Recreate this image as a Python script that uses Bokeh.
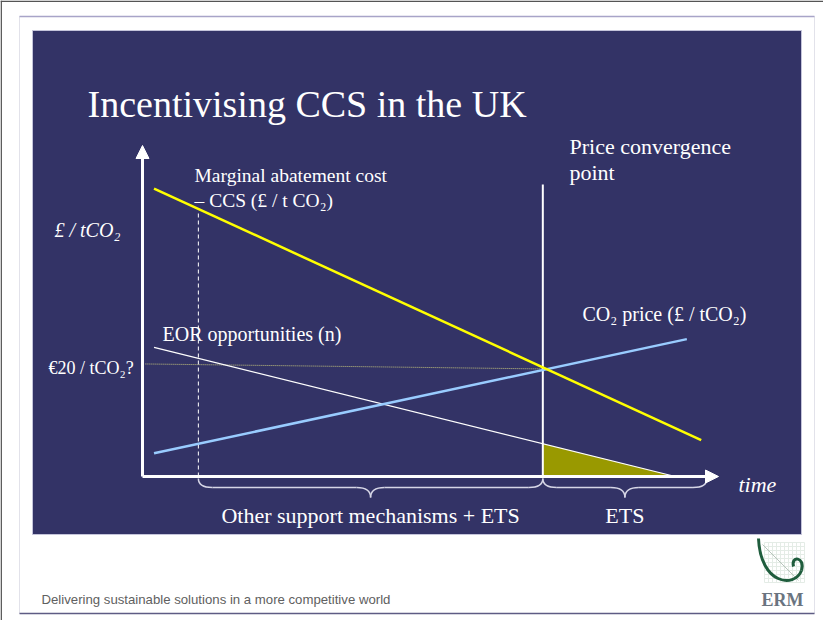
from bokeh.plotting import figure
from bokeh.models import Range1d, Arrow, NormalHead
from bokeh.core.properties import value
from bokeh.embed import file_html
from bokeh.resources import INLINE
import numpy as np

# ---- conceptual data (time units 0..10, price units 0..10) ----
mac_time = [0.2, 9.7]
mac_price = [8.7, 1.1]            # Marginal abatement cost - CCS
co2_time = [0.2, 9.45]
co2_price = [0.7, 4.15]           # CO2 price
eor_time = [0.2, 9.25]
eor_price = [3.9, 0.0]            # EOR opportunities (n)
ref_time = [0.05, 6.95]
ref_price = [3.4, 3.25]           # €20 / tCO2? level
t_eor_cut = 0.97
t_converge = 6.95
t_ets_end = 9.8
brace_starts = [t_eor_cut, t_converge]
brace_ends = [t_converge, t_ets_end]
brace_labels = ["Other support mechanisms + ETS", "ETS"]

# ---- mapping helpers for slide layout (reference pixels -> data) ----
XS, X0 = 57.6, 150.0
YS, Y0 = 33.1, 484.0
def X(px):
    return (px - X0) / XS
def Y(py):
    return (Y0 - py) / YS

p = figure(width=823, height=620, x_range=Range1d(X(8), X(831)),
           y_range=Range1d(Y(628), Y(8)), output_backend="svg",
           toolbar_location=None, x_axis_location=None, y_axis_location=None,
           min_border=0, background_fill_color="white", border_fill_color="white",
           outline_line_color=None)
p.grid.visible = False

SERIF = value("Liberation Serif")
SANS = value("Liberation Sans")

# page frame lines
p.segment(x0=[X(8)], y0=[Y(8.7)], x1=[X(831)], y1=[Y(8.7)], line_color="#555555", line_width=1.5)
p.segment(x0=[X(8.7)], y0=[Y(8)], x1=[X(8.7)], y1=[Y(628)], line_color="#555555", line_width=1.5)

# slide frame
p.quad(left=[X(27)], right=[X(822)], top=[Y(24)], bottom=[Y(621)],
       fill_color="white", line_color="#e2e2ea", line_width=1)
p.segment(x0=[X(27)], y0=[Y(24)], x1=[X(822)], y1=[Y(24)], line_color="#a8a4c8", line_width=1.5)
p.segment(x0=[X(27)], y0=[Y(621)], x1=[X(822)], y1=[Y(621)], line_color="#5e5c84", line_width=1.5)

# blue slide panel
p.quad(left=[X(40)], right=[X(809)], top=[Y(38)], bottom=[Y(542)],
       fill_color="#333366", line_color="#c4c4da", line_width=1)

# title
p.text(x=[X(95)], y=[Y(111)], text=["Incentivising CCS in the UK"], text_font=SERIF,
       text_font_size="38px", text_color="white", text_baseline="alphabetic")

# ETS-only area under EOR curve after convergence
eor_at_conv = float(np.interp(t_converge, eor_time, eor_price))
p.patch(x=[t_converge, t_converge, eor_time[1]], y=[eor_at_conv, 0, eor_price[1]],
        fill_color="#999900", line_color=None)

# reference price level (dotted)
p.line(ref_time, ref_price, line_color="#c4c47c", line_width=1, line_dash="1 1")

# vertical markers
p.segment(x0=[t_eor_cut], y0=[0], x1=[t_eor_cut], y1=[7.98], line_color="white",
          line_width=1, line_dash="4 3")
p.segment(x0=[t_converge], y0=[0], x1=[t_converge], y1=[8.82], line_color="white", line_width=2)

# curves
p.line(eor_time, eor_price, line_color="white", line_width=1.2)
p.line(co2_time, co2_price, line_color="#99ccff", line_width=2.5)
p.line(mac_time, mac_price, line_color="#ffff00", line_width=2.5)

# axes with arrow heads
p.add_layout(Arrow(end=NormalHead(size=13, fill_color="white", line_color="white"),
                   x_start=0, y_start=0, x_end=10, y_end=0, line_color="white", line_width=3))
p.add_layout(Arrow(end=NormalHead(size=13, fill_color="white", line_color="white"),
                   x_start=0, y_start=0, x_end=0, y_end=10, line_color="white", line_width=3))

# braces
yt, ym, yb = Y(486), Y(495), Y(505)
r = 14 / XS
for a, b in zip(brace_starts, brace_ends):
    m = (a + b) / 2
    p.quadratic(x0=[a, m - r, m, b - r], y0=[yt, ym, yb, ym],
                x1=[a + r, m, m + r, b], y1=[ym, yb, ym, yt],
                cx=[a, m, m, b], cy=[ym, ym, ym, ym],
                line_color="#d6d6e6", line_width=1.5)
    p.segment(x0=[a + r, m + r], y0=[ym, ym], x1=[m - r, b - r], y1=[ym, ym],
              line_color="#d6d6e6", line_width=1.5)
p.text(x=[(a + b) / 2 for a, b in zip(brace_starts, brace_ends)], y=[Y(523)] * 2,
       text=brace_labels, text_font=SERIF, text_font_size="22px", text_color="white",
       text_align="center", text_baseline="alphabetic")

# annotations
labels = [
    (202, 183, "Marginal abatement cost", "normal", "19.5px"),
    (202, 208, "– CCS (£ / t CO₂)", "normal", "19.5px"),
    (62, 237, "£ / tCO₂", "italic", "20px"),
    (170, 341, "EOR opportunities (n)", "normal", "20px"),
    (56, 375, "€20 / tCO₂?", "normal", "18px"),
    (577, 154, "Price convergence", "normal", "22px"),
    (577, 180, "point", "normal", "22px"),
    (590, 321, "CO₂ price (£ / tCO₂)", "normal", "20px"),
    (746, 492, "time", "italic", "22px"),
]
for lx, ly, txt, style, size in labels:
    p.text(x=[X(lx)], y=[Y(ly)], text=[txt], text_font=SERIF, text_font_size=size,
           text_font_style=style, text_color="white", text_baseline="alphabetic")

# footer
p.text(x=[X(49)], y=[Y(607)], text=["Delivering sustainable solutions in a more competitive world"],
       text_font=SANS, text_font_size="13.2px", text_color="#606060", text_baseline="alphabetic")

# ERM logo
gx = np.arange(772, 813, 4)
gy = np.arange(550, 591, 4)
p.segment(x0=[X(v) for v in gx], y0=[Y(550)] * len(gx), x1=[X(v) for v in gx], y1=[Y(590)] * len(gx),
          line_color="#e4ece6", line_width=1)
p.segment(x0=[X(772)] * len(gy), y0=[Y(v) for v in gy], x1=[X(812)] * len(gy), y1=[Y(v) for v in gy],
          line_color="#e4ece6", line_width=1)
p.segment(x0=[X(770)], y0=[Y(552)], x1=[X(806)], y1=[Y(588)], line_color="#b8c4bc", line_width=1)
p.bezier(x0=[X(766)], y0=[Y(546)], x1=[X(809)], y1=[Y(578)],
         cx0=[X(768)], cy0=[Y(592)], cx1=[X(802)], cy1=[Y(596)],
         line_color="#1f5d3d", line_width=3)
p.bezier(x0=[X(809)], y0=[Y(578)], x1=[X(801)], y1=[Y(574)],
         cx0=[X(813)], cy0=[Y(564)], cx1=[X(798)], cy1=[Y(563)],
         line_color="#1f5d3d", line_width=3)
p.text(x=[X(790)], y=[Y(607)], text=["ERM"], text_font=SERIF, text_font_size="18px",
       text_font_style="bold", text_color="#6a7480", text_align="center", text_baseline="alphabetic")

open("out.html", "w").write(file_html(p, INLINE))
